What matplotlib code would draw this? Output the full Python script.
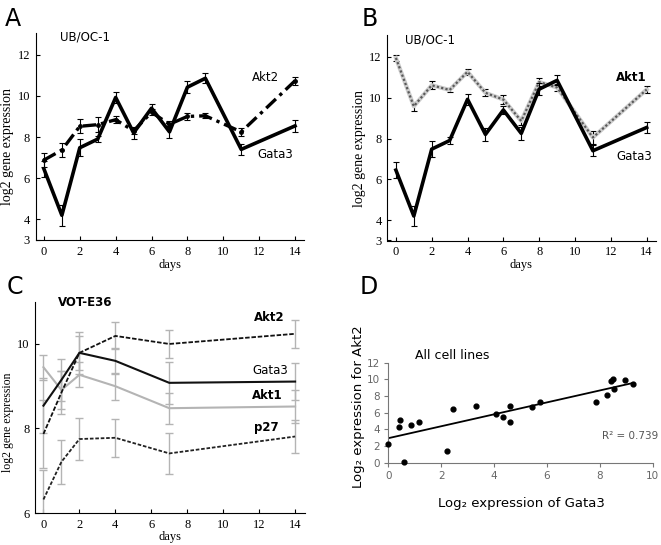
import numpy as np
import matplotlib
matplotlib.use("Agg")
import matplotlib.pyplot as plt

plt.rcParams["font.family"] = "serif"
plt.rcParams["font.serif"] = ["Liberation Serif", "DejaVu Serif"]

# ---- Panel A / B : UB/OC-1 time course ----
days_ab = [0, 1, 2, 3, 4, 5, 6, 7, 8, 9, 11, 14]
gata3_ab = [6.45, 4.2, 7.48, 7.9, 9.92, 8.2, 9.4, 8.25, 10.42, 10.85, 7.4, 8.54]
gata3_ab_err = [0.38, 0.5, 0.4, 0.15, 0.28, 0.3, 0.2, 0.3, 0.28, 0.25, 0.28, 0.28]
akt2_ab = [6.88, 7.37, 8.52, 8.6, 8.84, 8.3, 9.2, 8.62, 9.0, 9.03, 8.25, 10.73]
akt2_ab_err = [0.35, 0.32, 0.34, 0.35, 0.18, 0.15, 0.15, 0.15, 0.15, 0.12, 0.2, 0.2]
akt1_ab = [11.95, 9.58, 10.61, 10.38, 11.27, 10.24, 9.91, 8.86, 10.77, 10.5, 8.05, 10.4]
akt1_ab_err = [0.14, 0.22, 0.19, 0.1, 0.14, 0.17, 0.2, 0.2, 0.2, 0.15, 0.3, 0.18]

# ---- Panel C : VOT-E36 time course ----
days_c = [0, 1, 2, 4, 7, 14]
akt2_c = [7.87, 8.85, 9.79, 10.19, 10.0, 10.24]
akt2_c_err = [0.8, 0.5, 0.5, 0.32, 0.33, 0.33]
gata3_c = [8.54, 9.15, 9.79, 9.6, 9.08, 9.11]
gata3_c_err = [0.65, 0.5, 0.4, 0.3, 0.5, 0.43]
akt1_c = [9.45, 8.91, 9.27, 9.0, 8.48, 8.52]
akt1_c_err = [0.3, 0.45, 0.3, 0.32, 0.37, 0.38]
p27_c = [6.32, 7.21, 7.75, 7.78, 7.41, 7.81]
p27_c_err = [0.7, 0.52, 0.5, 0.45, 0.48, 0.4]

# ---- Panel D : all cell lines ----
gata3_d = [0.0, 0.4, 0.44, 0.6, 0.85, 1.16, 2.22, 2.46, 3.3, 4.06, 4.35, 4.6, 4.6,
           5.42, 5.73, 7.84, 8.27, 8.41, 8.48, 8.55, 8.97, 9.26]
akt2_d = [2.24, 4.3, 5.1, 0.04, 4.5, 4.9, 1.4, 6.5, 6.8, 5.9, 5.5, 6.8, 4.9,
          6.7, 7.3, 7.3, 8.1, 9.8, 10.0, 8.8, 9.9, 9.5]

W, H = 661, 545
fig = plt.figure(figsize=(W / 100, H / 100), dpi=100)


def box(l, r, b, t):
    # pixel box -> figure fraction
    return [l / W, 1 - b / H, (r - l) / W, (b - t) / H]


def style_time_axis(ax, ylab_size):
    for s in ["top", "right"]:
        ax.spines[s].set_visible(False)
    ax.tick_params(direction="in", length=3, width=0.8, labelsize=9, pad=4)
    ax.set_xlabel("days", fontsize=9)
    ax.set_ylabel("log2 gene expression", fontsize=ylab_size)


sans = "DejaVu Sans"
eb = dict(ecolor="black", elinewidth=0.8, capsize=2.5, capthick=0.8)

# Panel A
axA = fig.add_axes(box(35.5, 304, 240, 33))
axA.errorbar(days_ab, akt2_ab, yerr=akt2_ab_err, color="black", ls=(0, (4, 1.5, 1, 1.5)),
             lw=2.4, marker="o", ms=2.5, **eb)
axA.errorbar(days_ab, gata3_ab, yerr=gata3_ab_err, color="black", ls="-", lw=2.6, **eb)
axA.set_xlim(-0.47, 14.5)
axA.set_ylim(3, 13.05)
axA.set_xticks(range(0, 15, 2))
axA.set_yticks([3, 4, 6, 8, 10, 12])
style_time_axis(axA, 10)
axA.yaxis.set_label_coords(-0.08, 0.45)
axA.xaxis.set_label_coords(0.5, -0.09)
axA.text(0.9, 12.85, "UB/OC-1", family=sans, fontsize=8.5, va="center")
axA.text(11.6, 10.9, "Akt2", family=sans, fontsize=8.5, va="center")
axA.text(11.9, 7.13, "Gata3", family=sans, fontsize=8.5, va="center")

# Panel B
axB = fig.add_axes(box(387.3, 655.6, 240.5, 35.5))
axB.errorbar(days_ab, akt1_ab, yerr=akt1_ab_err, color="#cccccc", ls="-", lw=3.0, **eb)
axB.plot(days_ab, akt1_ab, color="#5a5a5a", ls=(0, (1, 1)), lw=1.6, zorder=2.5)
axB.errorbar(days_ab, gata3_ab, yerr=gata3_ab_err, color="black", ls="-", lw=2.6,
             zorder=3, **eb)
axB.set_xlim(-0.48, 14.5)
axB.set_ylim(3, 13.05)
axB.set_xticks(range(0, 15, 2))
axB.set_yticks([3, 4, 6, 8, 10, 12])
style_time_axis(axB, 10)
axB.yaxis.set_label_coords(-0.078, 0.45)
axB.xaxis.set_label_coords(0.5, -0.09)
axB.text(0.5, 12.85, "UB/OC-1", family=sans, fontsize=8.5, va="center")
axB.text(12.3, 11.0, "Akt1", family=sans, fontsize=8.5, va="center", fontweight="bold")
axB.text(12.3, 7.1, "Gata3", family=sans, fontsize=8.5, va="center")

# Panel C
axC = fig.add_axes(box(35, 305, 513, 301.7))
ebc = dict(ecolor="#b4b4b4", elinewidth=1.0, capsize=3, capthick=1.0)
axC.errorbar(days_c, akt1_c, yerr=akt1_c_err, color="#b4b4b4", ls="-", lw=1.5, **ebc)
axC.errorbar(days_c, p27_c, yerr=p27_c_err, color="#222222", ls=(0, (2, 1)), lw=1.3, **ebc)
axC.errorbar(days_c, akt2_c, yerr=akt2_c_err, color="#111111", ls=(0, (2.5, 1)), lw=1.3, **ebc)
axC.errorbar(days_c, gata3_c, yerr=gata3_c_err, color="#111111", ls="-", lw=1.5, **ebc)
axC.set_xlim(-0.47, 14.55)
axC.set_ylim(6, 11)
axC.set_xticks(range(0, 15, 2))
axC.set_yticks([6, 8, 10])
style_time_axis(axC, 8.5)
axC.yaxis.set_label_coords(-0.078, 0.43)
axC.xaxis.set_label_coords(0.5, -0.085)
axC.text(0.82, 10.97, "VOT-E36", family=sans, fontsize=8.5, va="center", fontweight="bold")
axC.text(11.7, 10.62, "Akt2", family=sans, fontsize=8.5, va="center", fontweight="bold")
axC.text(11.6, 9.38, "Gata3", family=sans, fontsize=8.5, va="center")
axC.text(11.6, 8.78, "Akt1", family=sans, fontsize=8.5, va="center", fontweight="bold")
axC.text(11.7, 8.02, "p27", family=sans, fontsize=8.5, va="center", fontweight="bold")

# Panel D
axD = fig.add_axes(box(388.3, 652.7, 462.7, 362.7))
axD.scatter(gata3_d, akt2_d, s=12, color="black", zorder=3, clip_on=False)
slope, icpt = np.polyfit(gata3_d, akt2_d, 1)
xf = np.array([min(gata3_d), max(gata3_d)])
axD.plot(xf, slope * xf + icpt, color="black", lw=1.3)
axD.set_xlim(0, 10)
axD.set_ylim(0, 12)
axD.set_xticks(range(0, 11, 2))
axD.set_yticks(range(0, 13, 2))
for s in ["top", "right"]:
    axD.spines[s].set_visible(False)
for s in ["left", "bottom"]:
    axD.spines[s].set_color("#777777")
axD.tick_params(direction="out", length=3, width=0.8, color="#777777",
                labelsize=7.5, labelcolor="#666666", pad=3)
for lab in axD.get_xticklabels() + axD.get_yticklabels():
    lab.set_family(sans)
axD.set_ylabel("Log₂ expression for Akt2", family=sans, fontsize=9.5)
axD.set_xlabel("Log₂ expression of Gata3", family=sans, fontsize=9.5)
axD.yaxis.set_label_coords(-0.09, 0.56)
axD.xaxis.set_label_coords(0.504, -0.34)
axD.text(1.0, 12.9, "All cell lines", family=sans, fontsize=9, va="center")
axD.text(10.2, 3.2, "R² = 0.739", family=sans, fontsize=7.5, color="#555555",
         ha="right", va="center")

# panel letters
for letter, x, y in [("A", 5, 7), ("B", 362, 7), ("C", 7, 275), ("D", 360, 275)]:
    fig.text(x / W, 1 - y / H, letter, family=sans, fontsize=17, va="top", ha="left")

fig.savefig("out.png", dpi=100)
